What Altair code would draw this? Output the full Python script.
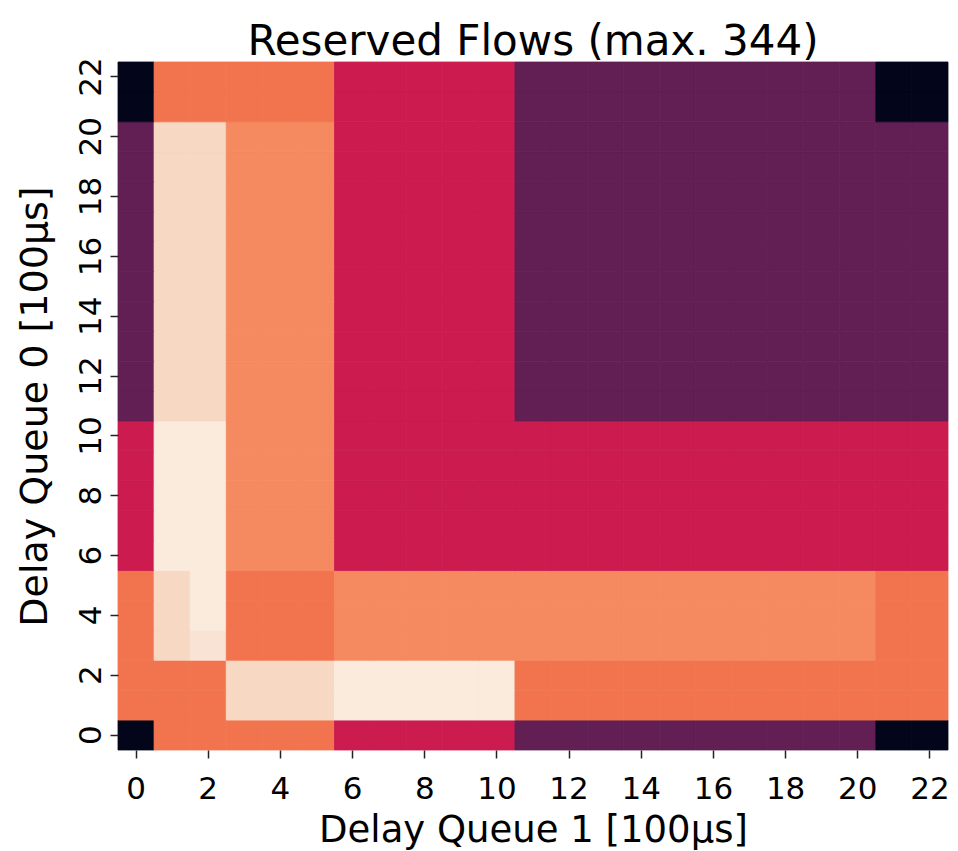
import altair as alt
import pandas as pd

# axes: Delay Queue 1 (x) and Delay Queue 0 (y), in units of 100 µs
delay_queue_1 = list(range(23))
delay_queue_0 = list(range(23))
x_tick_values = [0, 2, 4, 6, 8, 10, 12, 14, 16, 18, 20, 22]
y_tick_values = [0, 2, 4, 6, 8, 10, 12, 14, 16, 18, 20, 22]

# value levels (max. 344)
B, P, C, O, L, K, M, W = 0, 89, 172, 258, 275, 332, 337, 344
level_values = [B, P, C, O, L, K, M, W]
level_colors = ["#03051a", "#611f53", "#cb1b4f", "#f2744f",
                "#f58960", "#f7d8c3", "#f9e3d4", "#faebdd"]

# one list per row (Delay Queue 0 value), columns = Delay Queue 1 0..22
row_0 = [B, O, O, O, O, O, C, C, C, C, C, P, P, P, P, P, P, P, P, P, P, B, B]
row_1 = [O, O, O, K, K, K, W, W, W, W, W, O, O, O, O, O, O, O, O, O, O, O, O]
row_2 = [O, O, O, K, K, K, W, W, W, W, W, O, O, O, O, O, O, O, O, O, O, O, O]
row_3 = [O, K, M, O, O, O, L, L, L, L, L, L, L, L, L, L, L, L, L, L, L, O, O]
row_4 = [O, K, W, O, O, O, L, L, L, L, L, L, L, L, L, L, L, L, L, L, L, O, O]
row_5 = [O, K, W, O, O, O, L, L, L, L, L, L, L, L, L, L, L, L, L, L, L, O, O]
row_6 = [C, W, W, L, L, L, C, C, C, C, C, C, C, C, C, C, C, C, C, C, C, C, C]
row_7 = [C, W, W, L, L, L, C, C, C, C, C, C, C, C, C, C, C, C, C, C, C, C, C]
row_8 = [C, W, W, L, L, L, C, C, C, C, C, C, C, C, C, C, C, C, C, C, C, C, C]
row_9 = [C, W, W, L, L, L, C, C, C, C, C, C, C, C, C, C, C, C, C, C, C, C, C]
row_10 = [C, W, W, L, L, L, C, C, C, C, C, C, C, C, C, C, C, C, C, C, C, C, C]
row_11 = [P, K, K, L, L, L, C, C, C, C, C, P, P, P, P, P, P, P, P, P, P, P, P]
row_12 = [P, K, K, L, L, L, C, C, C, C, C, P, P, P, P, P, P, P, P, P, P, P, P]
row_13 = [P, K, K, L, L, L, C, C, C, C, C, P, P, P, P, P, P, P, P, P, P, P, P]
row_14 = [P, K, K, L, L, L, C, C, C, C, C, P, P, P, P, P, P, P, P, P, P, P, P]
row_15 = [P, K, K, L, L, L, C, C, C, C, C, P, P, P, P, P, P, P, P, P, P, P, P]
row_16 = [P, K, K, L, L, L, C, C, C, C, C, P, P, P, P, P, P, P, P, P, P, P, P]
row_17 = [P, K, K, L, L, L, C, C, C, C, C, P, P, P, P, P, P, P, P, P, P, P, P]
row_18 = [P, K, K, L, L, L, C, C, C, C, C, P, P, P, P, P, P, P, P, P, P, P, P]
row_19 = [P, K, K, L, L, L, C, C, C, C, C, P, P, P, P, P, P, P, P, P, P, P, P]
row_20 = [P, K, K, L, L, L, C, C, C, C, C, P, P, P, P, P, P, P, P, P, P, P, P]
row_21 = [B, O, O, O, O, O, C, C, C, C, C, P, P, P, P, P, P, P, P, P, P, B, B]
row_22 = [B, O, O, O, O, O, C, C, C, C, C, P, P, P, P, P, P, P, P, P, P, B, B]

rows = [row_0, row_1, row_2, row_3, row_4, row_5, row_6, row_7, row_8, row_9,
        row_10, row_11, row_12, row_13, row_14, row_15, row_16, row_17,
        row_18, row_19, row_20, row_21, row_22]

records = []
for yi, y in enumerate(delay_queue_0):
    for xi, x in enumerate(delay_queue_1):
        records.append({"q1": x, "q0": y, "flows": rows[yi][xi]})
df = pd.DataFrame(records)

FONT = "DejaVu Sans"
color_scale = alt.Scale(type="linear", domain=level_values, range=level_colors)

chart = alt.Chart(df).mark_rect(strokeWidth=0.8).encode(
    x=alt.X(
        "q1:O",
        sort="ascending",
        scale=alt.Scale(paddingInner=0, paddingOuter=0),
        axis=alt.Axis(
            title="Delay Queue 1 [100μs]",
            values=x_tick_values,
            labelAngle=0,
            domain=False,
            tickSize=8,
            tickWidth=1.5,
            tickColor="#222222",
            labelFont=FONT,
            labelFontSize=31,
            labelColor="#000000",
            labelBaseline="alphabetic",
            labelPadding=40,
            titleFont=FONT,
            titleFontSize=37,
            titleFontWeight="normal",
            titleColor="#000000",
            titleX=415,
            titleY=91,
            titleAlign="center",
            titleBaseline="alphabetic",
            grid=False,
        ),
    ),
    y=alt.Y(
        "q0:O",
        sort="descending",
        scale=alt.Scale(paddingInner=0, paddingOuter=0),
        axis=alt.Axis(
            title="Delay Queue 0 [100μs]",
            values=y_tick_values,
            labelAngle=-90,
            labelAlign="center",
            labelBaseline="alphabetic",
            domain=False,
            tickSize=8,
            tickWidth=1.5,
            tickColor="#222222",
            labelFont=FONT,
            labelFontSize=31,
            labelColor="#000000",
            labelPadding=10,
            titleFont=FONT,
            titleFontSize=38,
            titleFontWeight="normal",
            titleColor="#000000",
            titleAngle=270,
            titleX=-72,
            titleY=344,
            titleAlign="center",
            titleBaseline="alphabetic",
            grid=False,
        ),
    ),
    color=alt.Color("flows:Q", scale=color_scale, legend=None),
    stroke=alt.Stroke("flows:Q", scale=color_scale, legend=None),
).properties(
    width=830,
    height=688,
    title=alt.TitleParams(
        "Reserved Flows (max. 344)",
        font=FONT,
        fontSize=42,
        fontWeight="normal",
        color="#000000",
        anchor="middle",
        frame="group",
        baseline="bottom",
        offset=0,
        dy=49,
    ),
    autosize=alt.AutoSizeParams(type="none"),
    padding={"left": 110, "top": 54, "right": 2, "bottom": 101},
).configure_view(stroke=None)

chart.save("out.html", embed_options={"renderer": "svg", "actions": False})
